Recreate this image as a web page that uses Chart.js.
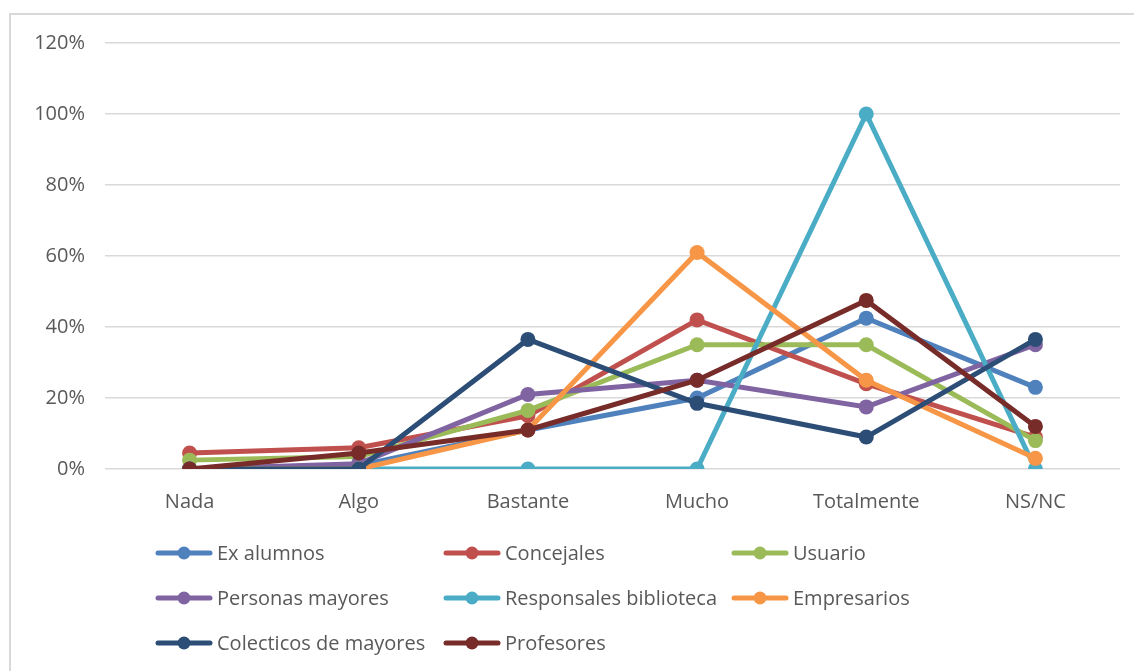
<!DOCTYPE html>
<html>
<head>
<meta charset="utf-8">
<script src="https://cdn.jsdelivr.net/npm/chart.js@4"></script>
<style>
html,body{margin:0;padding:0;background:#fff;width:1134px;height:671px;overflow:hidden;}
#frame{position:absolute;left:9px;top:13px;width:1200px;height:720px;border:2px solid #d9d9d9;box-sizing:border-box;}
#wrap{position:absolute;left:0;top:0;width:1134px;height:671px;}
</style>
</head>
<body>
<div id="frame"></div>
<div id="wrap"><canvas id="c" width="1134" height="671"></canvas></div>
<script>
const categories = ["Nada", "Algo", "Bastante", "Mucho", "Totalmente", "NS/NC"];
const exAlumnos      = [0, 1, 11, 20, 42.5, 23];
const concejales     = [4.5, 6, 15, 42, 24, 9];
const usuario        = [2.5, 3.5, 16.5, 35, 35, 8];
const personasMay    = [0, 1.5, 21, 25, 17.5, 35];
const responsales    = [0, 0, 0, 0, 100, 0];
const empresarios    = [0, 0, 11, 61, 25, 3];
const colecticos     = [0, 0, 36.5, 18.5, 9, 36.5];
const profesores     = [0, 4.5, 11, 25, 47.5, 12];
const seriesNames = ["Ex alumnos", "Concejales", "Usuario", "Personas mayores", "Responsales biblioteca", "Empresarios", "Colecticos de mayores", "Profesores"];
const seriesValues = [exAlumnos, concejales, usuario, personasMay, responsales, empresarios, colecticos, profesores];
const seriesColors = ["#4F81BD", "#C0504D", "#9BBB59", "#8064A2", "#4BACC6", "#F79646", "#2C4D75", "#772C2A"];
const yTicks = [0, 20, 40, 60, 80, 100, 120];

const FONT = "'Open Sans', 'Noto Sans', sans-serif";

const legendPlugin = {
  id: 'gridLegend',
  afterDraw(chart) {
    const ctx = chart.ctx;
    const colX = [158, 446, 734];
    const rowY = [553, 598, 643];
    ctx.save();
    chart.data.datasets.forEach((ds, i) => {
      const x = colX[i % 3], y = rowY[Math.floor(i / 3)];
      ctx.strokeStyle = ds.borderColor;
      ctx.lineWidth = 5;
      ctx.lineCap = 'round';
      ctx.beginPath(); ctx.moveTo(x, y); ctx.lineTo(x + 52, y); ctx.stroke();
      ctx.fillStyle = ds.borderColor;
      ctx.beginPath(); ctx.arc(x + 26, y, 6.5, 0, Math.PI * 2); ctx.fill();
      ctx.fillStyle = '#595959';
      ctx.font = '20px ' + FONT;
      ctx.textBaseline = 'middle';
      ctx.textAlign = 'left';
      ctx.fillText(ds.label, x + 59, y + 1);
    });
    ctx.restore();
  }
};

const datasets = seriesNames.map((name, i) => ({
  label: name,
  data: seriesValues[i],
  borderColor: seriesColors[i],
  backgroundColor: seriesColors[i],
  pointBackgroundColor: seriesColors[i],
  pointBorderColor: seriesColors[i],
  borderWidth: 5,
  pointRadius: 7.5,
  pointBorderWidth: 0,
  tension: 0,
  order: seriesNames.length - i
}));

new Chart(document.getElementById('c'), {
  type: 'line',
  data: { labels: categories, datasets },
  plugins: [legendPlugin],
  options: {
    responsive: false,
    animation: false,
    events: [],
    layout: { padding: { left: 0, right: 14, top: 43, bottom: 152 } },
    plugins: { legend: { display: false }, tooltip: { enabled: false } },
    scales: {
      x: {
        offset: true,
        grid: { display: false, drawTicks: false },
        border: { display: false },
        ticks: { color: '#595959', font: { family: FONT, size: 20 }, padding: 21, maxRotation: 0 },
        afterFit(scale) { scale.height = 50; }
      },
      y: {
        min: 0, max: 120,
        afterBuildTicks(scale) { scale.ticks = yTicks.map(v => ({ value: v })); },
        grid: { color: '#d9d9d9', lineWidth: 1.5, drawTicks: false },
        border: { display: false },
        ticks: { color: '#595959', font: { family: FONT, size: 20 }, padding: 20, callback: v => v + '%' },
        afterFit(scale) { scale.width = 105; }
      }
    }
  }
});
</script>
</body>
</html>
